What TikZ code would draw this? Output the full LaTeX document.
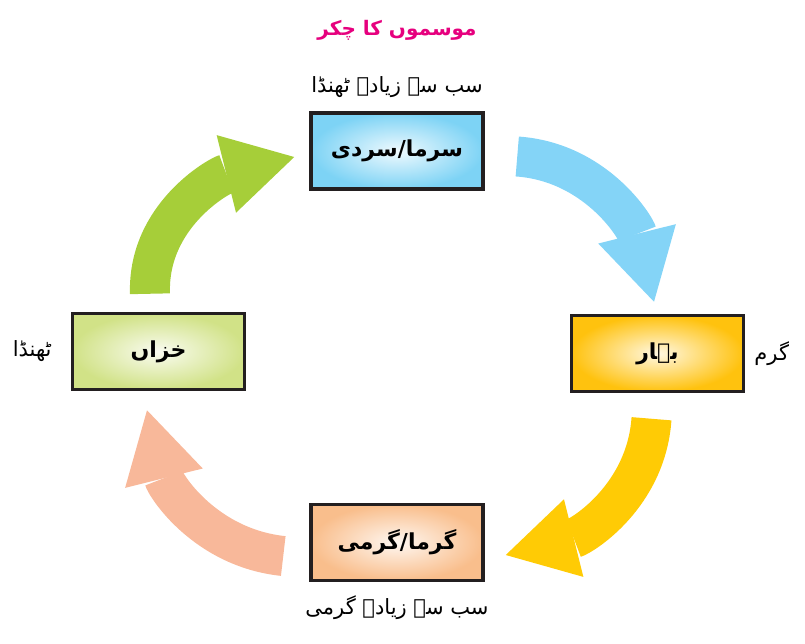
\documentclass[tikz,border=0pt]{standalone}
\usepackage{fontspec}
\usetikzlibrary{arrows.meta,calc,positioning}
\TeXXeTstate=1
\newfontfamily\urdu[Script=Arabic]{DejaVu Sans}
\definecolor{boxline}{HTML}{231F20}
\definecolor{wintercol}{HTML}{7DD3F5}
\definecolor{springcol}{HTML}{FFC20E}
\definecolor{summercol}{HTML}{F9BE8C}
\definecolor{autumncol}{HTML}{D1E287}
\definecolor{greenarr}{HTML}{A6CE39}
\definecolor{bluearr}{HTML}{84D4F7}
\definecolor{yellowarr}{HTML}{FFCB05}
\definecolor{pinkarr}{HTML}{F8B89A}
\definecolor{titlecol}{HTML}{E6007E}
\tikzset{
  season/.style={draw=boxline, line width=3.5pt, minimum width=172pt, minimum height=76pt,
    inner color=#1!12, outer color=#1, font=\urdu\bfseries\fontsize{22}{26}\selectfont},
  note/.style={font=\urdu\fontsize{21}{24}\selectfont, inner sep=1pt},
  cyclearrow/.style={line width=40pt, draw=#1, -{Triangle[length=70pt,width=80pt,line width=0pt]}}
}

\begin{document}
\begin{tikzpicture}[x=1pt,y=-1pt]
  \useasboundingbox (0,0) rectangle (805,643);
  % title
  \node[font=\urdu\bfseries\fontsize{20}{24}\selectfont, text=titlecol] (title) at (397,30) {\beginR موسموں کا چکر\endR};
  % the four seasons
  \node[season=wintercol] (sarma) at (397,151) {\beginR سرما/سردی\endR};
  \node[season=springcol] (bahar) at (657.5,353.5) {\beginR بہار\endR};
  \node[season=summercol] (garma) at (397,542.5) {\beginR گرما/گرمی\endR};
  \node[season=autumncol] (khizan) at (158.5,351.5) {\beginR خزاں\endR};
  % side notes
  \node[note, above=12pt of sarma] (coldest) {\beginR سب سے زیادہ ٹھنڈا\endR};
  \node[note, right=8pt of bahar] (warm) {\beginR گرم\endR};
  \node[note, below=12pt of garma] (hottest) {\beginR سب سے زیادہ گرمی\endR};
  \node[note, left=18pt of khizan] (cold) {\beginR ٹھنڈا\endR};
  % cycle arrows
  \draw[cyclearrow=greenarr] ($(khizan.north)+(-8.5,-18)$) to[out=92,in=194] ($(sarma.west)+(-15,6)$);
  \draw[cyclearrow=bluearr] ($(sarma.east)+(32.5,5.5)$) to[out=-4,in=104] ($(bahar.north)+(-3.5,-12)$);
  \draw[cyclearrow=yellowarr] ($(bahar.south)+(-6,25.5)$) to[out=-94,in=14] ($(garma.east)+(21,12.5)$);
  \draw[cyclearrow=pinkarr] ($(garma.west)+(-26,13.5)$) to[out=174,in=-76] ($(khizan.south)+(-11.5,19)$);
\end{tikzpicture}
\end{document}
